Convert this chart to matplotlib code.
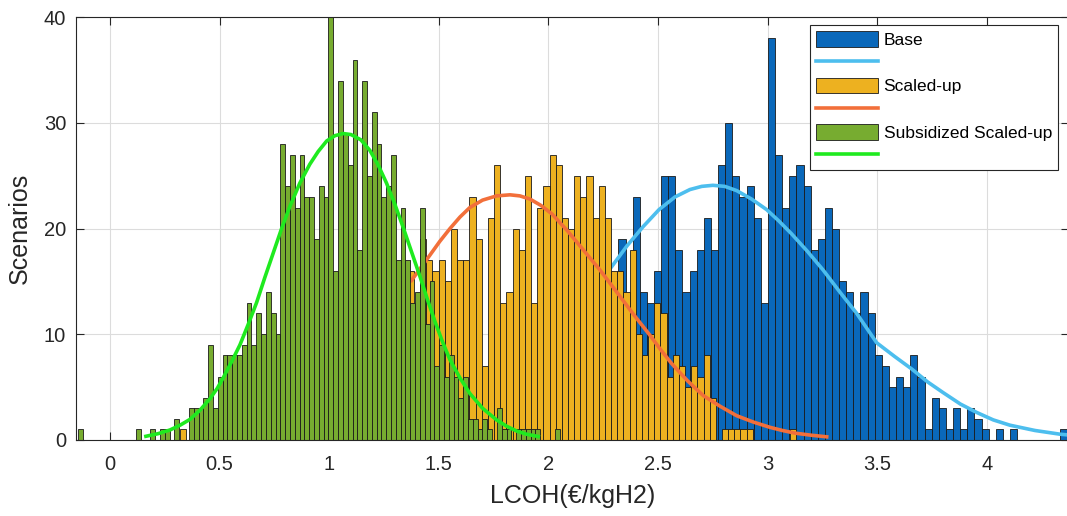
import numpy as np
import matplotlib
matplotlib.use("Agg")
import matplotlib.pyplot as plt

plt.rcParams['font.family'] = ['Liberation Sans', 'DejaVu Sans']

# histogram bins: first left edge, bin width, counts
base_start, base_w = 2.0274, 0.032482
base_counts = [8, 9, 10, 10, 12, 11, 13, 14, 15,
               19, 13, 23, 14, 13, 16, 25, 25, 18, 14, 16, 18, 21, 18, 26, 30, 25, 23, 24, 21, 13,
               38, 27, 22, 25, 26, 24, 18, 19, 22, 20, 15, 14, 12, 14, 12, 8, 7, 5, 6, 5, 8,
               6, 1, 4, 3, 1, 3, 1, 3, 2, 1, 0, 1, 0, 1, 0, 0, 0, 0, 0, 0, 1]

scaled_start, scaled_w = 0.3193, 0.028102
scaled_counts = [1, 0, 0, 1, 0, 1, 1, 1, 2, 1, 2, 2, 3, 3, 3, 4, 4, 5, 5, 6,
                 6, 7, 7, 8, 9, 9, 10, 10, 11, 12, 12, 13, 13, 14, 14, 15, 12, 16, 12, 19,
                 17, 16, 17, 15, 20, 17, 17, 23, 19, 7, 21, 26, 13, 14, 20, 18, 25, 13, 22, 24,
                 27, 26, 21, 20, 25, 23, 25, 21, 24, 21, 16, 16, 14, 18, 10, 8, 10, 13, 12, 6,
                 8, 7, 5, 7, 6, 8, 4, 0, 1, 1, 1, 1, 1, 0, 0, 0, 0, 0, 0, 1]

subs_start, subs_w = -0.145, 0.02196
subs_counts = [1, 0, 0, 0, 0, 0, 0, 0, 0, 0, 0, 0, 1, 0, 0, 1, 0, 1, 1, 0,
               2, 0, 0, 3, 3, 3, 4, 9, 3, 6, 8, 8, 8, 8, 9, 13, 9, 12, 10, 14,
               12, 10, 28, 24, 27, 22, 27, 23, 23, 19, 24, 23, 40, 16, 34, 29, 26, 36, 18, 34,
               25, 31, 28, 23, 24, 27, 17, 22, 17, 13, 14, 22, 11, 15, 7, 9, 6, 8, 6, 4,
               6, 2, 2, 1, 2, 1, 0, 3, 1, 1, 0, 1, 1, 1, 1, 1, 0, 0, 0, 1]

# fitted curves
base_fit_x = [2.289, 2.36, 2.433, 2.505, 2.578, 2.646, 2.70, 2.751, 2.805, 2.859,
              2.927, 2.996, 3.053, 3.11, 3.18, 3.253, 3.33, 3.406, 3.452, 3.498,
              3.58, 3.659, 3.73, 3.80, 3.88, 3.955, 4.03, 4.106, 4.22, 4.334, 4.40]
base_fit_y = [16.4, 18.4, 20.2, 21.8, 23.0, 23.7, 24.0, 24.1, 24.0, 23.6,
              22.8, 21.8, 20.7, 19.5, 17.9, 16.1, 14.0, 12.0, 10.6, 9.2,
              7.9, 6.7, 5.5, 4.5, 3.4, 2.6, 1.9, 1.4, 0.9, 0.55, 0.42]
scaled_fit_x = [1.376, 1.418, 1.460, 1.505, 1.551, 1.597, 1.642, 1.70, 1.764, 1.825,
                1.87, 1.916, 1.966, 2.016, 2.087, 2.159, 2.235, 2.312, 2.388, 2.464,
                2.514, 2.564, 2.635, 2.707, 2.783, 2.859, 2.935, 3.011, 3.068, 3.125,
                3.20, 3.27]
scaled_fit_y = [15.1, 16.3, 17.5, 18.8, 20.0, 21.1, 22.0, 22.7, 23.1, 23.2,
                23.1, 22.8, 22.2, 21.4, 19.8, 18.0, 16.1, 14.0, 11.9, 9.9,
                8.5, 7.2, 5.6, 4.2, 3.2, 2.3, 1.7, 1.2, 0.9, 0.65,
                0.45, 0.3]
subs_fit_x = [0.164, 0.22, 0.274, 0.32, 0.365, 0.41, 0.456, 0.49, 0.517, 0.555,
              0.593, 0.63, 0.669, 0.707, 0.745, 0.783, 0.821, 0.866, 0.912, 0.95,
              0.989, 1.027, 1.064, 1.10, 1.145, 1.186, 1.224, 1.262, 1.30, 1.338,
              1.376, 1.414, 1.45, 1.483, 1.517, 1.551, 1.596, 1.642, 1.70, 1.764,
              1.81, 1.855, 1.90, 1.954]
subs_fit_y = [0.35, 0.6, 0.95, 1.4, 1.95, 2.8, 3.9, 4.9, 5.9, 7.4,
              9.0, 10.9, 13.0, 15.4, 17.7, 20.0, 22.1, 24.3, 26.1, 27.3,
              28.3, 28.8, 29.0, 28.9, 28.4, 27.4, 26.0, 24.3, 22.3, 20.1,
              17.8, 15.5, 13.2, 11.2, 9.3, 7.6, 5.9, 4.4, 3.0, 1.9,
              1.3, 0.85, 0.55, 0.33]

labels = ['Base', 'Scaled-up', 'Subsidized Scaled-up']
bar_colors = ['#0A68BA', '#EDB120', '#77AC30']
fit_colors = ['#4DBEEE', '#F26F3A', '#1FEA1F']

fig = plt.figure(figsize=(10.67, 5.16), dpi=100)
ax = fig.add_axes([0.0712, 0.1473, 0.9306, 0.8192])

series = [
    (base_start, base_w, base_counts, base_fit_x, base_fit_y),
    (scaled_start, scaled_w, scaled_counts, scaled_fit_x, scaled_fit_y),
    (subs_start, subs_w, subs_counts, subs_fit_x, subs_fit_y),
]
handles = []
z = 2
for i, (start, w, counts, fx, fy) in enumerate(series):
    counts = np.array(counts, dtype=float)
    edges = start + w * np.arange(len(counts))
    m = counts > 0
    bars = ax.bar(edges[m], counts[m], width=w, align='edge', color=bar_colors[i],
                  edgecolor='#1a1a1a', linewidth=0.6, zorder=z, label=labels[i])
    line, = ax.plot(fx, fy, color=fit_colors[i], linewidth=2.6, zorder=z + 1,
                    solid_joinstyle='round', label=' ')
    handles += [bars, line]
    z += 2

ax.set_xlim(-0.155, 4.375)
ax.set_ylim(0, 40)
ax.set_xticks(np.arange(0, 4.01, 0.5))
ax.set_xticklabels(['0', '0.5', '1', '1.5', '2', '2.5', '3', '3.5', '4'])
ax.set_yticks([0, 10, 20, 30, 40])
ax.grid(True, color='#dcdcdc', linewidth=0.8)
ax.set_axisbelow(True)
ax.tick_params(direction='in', top=True, right=True, length=6, width=0.8,
               colors='#262626', labelsize=14.5)
ax.tick_params(axis='x', pad=11)
ax.tick_params(axis='y', pad=7)
for s in ax.spines.values():
    s.set_color('#262626')
    s.set_linewidth(0.8)
    s.set_zorder(20)

ax.set_xlabel('LCOH(€/kgH2)', fontsize=18, color='#262626')
ax.set_ylabel('Scenarios', fontsize=18, color='#262626')
ax.xaxis.set_label_coords(0.5005, -0.104)
ax.yaxis.set_label_coords(-0.044, 0.5)

leg = ax.legend(handles=handles, labels=['Base', ' ', 'Scaled-up', ' ', 'Subsidized Scaled-up', ' '],
                loc='upper right', bbox_to_anchor=(0.989, 0.982), borderaxespad=0,
                fontsize=12.5, fancybox=False, framealpha=1, edgecolor='#262626',
                borderpad=0.35, labelspacing=0.38, handlelength=3.6, handleheight=1.0,
                handletextpad=0.3)
leg.get_frame().set_linewidth(0.8)
leg.set_zorder(30)

fig.savefig('out.png', dpi=100)
